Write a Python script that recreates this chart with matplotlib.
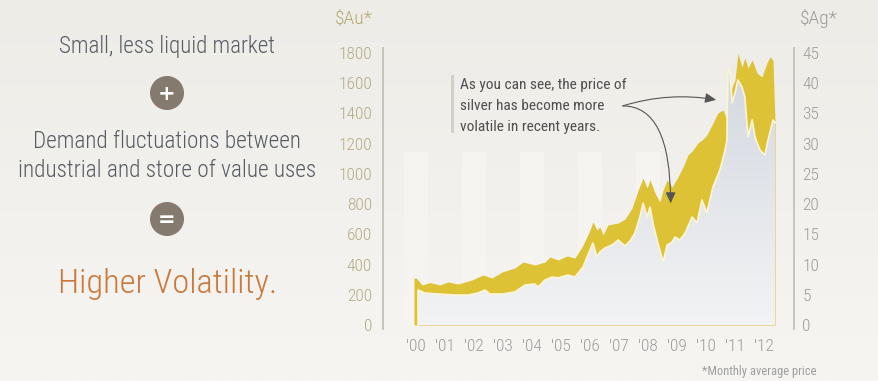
import numpy as np
import matplotlib
matplotlib.use("Agg")
import matplotlib.pyplot as plt
from matplotlib import font_manager as fm
from matplotlib.patches import Ellipse, Rectangle
from matplotlib.colors import LinearSegmentedColormap

# ---------------- data ----------------
gold_t = [1999.93, 2000.00, 2000.21, 2000.48, 2000.83, 2001.10, 2001.45, 2001.93, 2002.31,
          2002.62, 2002.97, 2003.41, 2003.69, 2004.10, 2004.45, 2004.62, 2004.90, 2005.21,
          2005.48, 2005.76, 2006.00, 2006.10, 2006.24, 2006.34, 2006.45, 2006.62, 2006.97,
          2007.21, 2007.45, 2007.66, 2007.83, 2007.97, 2008.07, 2008.24, 2008.41, 2008.52,
          2008.66, 2008.83, 2009.03, 2009.21, 2009.38, 2009.55, 2009.72, 2009.86, 2010.03,
          2010.24, 2010.41, 2010.59, 2010.72, 2010.90, 2011.00, 2011.10, 2011.24, 2011.34,
          2011.45, 2011.59, 2011.76, 2011.93, 2012.10, 2012.21, 2012.31, 2012.38]
gold_v = [311, 311, 265, 281, 265, 285, 271, 298, 331,
          311, 351, 377, 417, 397, 417, 450, 430, 457,
          443, 529, 629, 682, 629, 649, 596, 662, 675,
          701, 774, 893, 973, 907, 960, 874, 814, 893,
          960, 913, 979, 1046, 1125, 1158, 1204, 1224, 1257,
          1337, 1403, 1423, 1357, 1575, 1621, 1800, 1707, 1767,
          1701, 1754, 1668, 1641, 1734, 1774, 1754, 1337]

silver_t = [2000.07, 2000.31, 2000.76, 2001.34, 2001.79, 2002.14, 2002.38, 2002.55, 2002.97,
            2003.41, 2003.76, 2004.10, 2004.21, 2004.45, 2004.69, 2004.90, 2005.24, 2005.48,
            2005.76, 2006.00, 2006.10, 2006.24, 2006.34, 2006.52, 2006.76, 2006.97, 2007.21,
            2007.38, 2007.55, 2007.72, 2007.83, 2007.97, 2008.07, 2008.17, 2008.34, 2008.52,
            2008.66, 2008.83, 2008.93, 2009.10, 2009.28, 2009.52, 2009.69, 2009.86, 2010.03,
            2010.24, 2010.48, 2010.66, 2010.72, 2010.76, 2010.83, 2010.90, 2011.00, 2011.10,
            2011.24, 2011.34, 2011.45, 2011.59, 2011.69, 2011.86, 2012.03, 2012.14, 2012.31,
            2012.38]
silver_v = [5.79, 5.29, 5.13, 4.96, 4.96, 5.29, 5.79, 5.13, 5.13,
            5.46, 6.62, 6.78, 6.29, 7.44, 7.94, 7.78, 8.27, 7.94,
            9.60, 12.41, 13.57, 11.25, 12.08, 12.74, 13.24, 14.06, 13.07,
            13.90, 15.22, 17.87, 20.18, 17.87, 19.52, 16.87, 13.57, 10.42,
            13.24, 13.73, 14.56, 14.06, 15.22, 17.87, 16.87, 20.68, 18.53,
            22.83, 25.64, 28.95, 30.61, 42.19, 41.69, 36.73, 38.38, 40.53,
            39.37, 37.72, 31.10, 33.92, 31.10, 28.95, 28.12, 30.61, 33.92,
            33.42]

year_ticks = list(range(2000, 2013))
year_labels = ["'00", "'01", "'02", "'03", "'04", "'05", "'06", "'07", "'08", "'09", "'10", "'11", "'12"]
gold_ticks = [0, 200, 400, 600, 800, 1000, 1200, 1400, 1600, 1800]
silver_ticks = [0, 5, 10, 15, 20, 25, 30, 35, 40, 45]
band_years = [2000, 2002, 2004, 2006, 2008, 2010, 2012]
band_height = 1145

left_title = "$Au*"
right_title = "$Ag*"
line1 = "Small, less liquid market"
line2a = "Demand fluctuations between"
line2b = "industrial and store of value uses"
line3 = "Higher Volatility."
note_lines = ["As you can see, the price of", "silver has become more", "volatile in recent years."]
footnote = "*Monthly average price"

# ---------------- fonts ----------------
entries = fm.fontManager.ttflist
names = {f.name for f in entries}

def pick_cond():
    for fam in ["Roboto Condensed", "Open Sans Condensed", "Liberation Sans Narrow"]:
        if fam in names:
            return dict(family=fam)
    for f in entries:
        if f.name == "DejaVu Sans" and str(f.stretch) in ("condensed", "semi-condensed", "75", "87"):
            return dict(family="DejaVu Sans", stretch="condensed")
    return dict(family="Roboto")

COND = pick_cond()
COND_LIGHT = dict(COND)
if any(f.name == COND["family"] and f.weight in (300, "light") for f in entries):
    COND_LIGHT["weight"] = "light"

W, H = 879, 381
fig = plt.figure(figsize=(W / 100, H / 100), dpi=100)

def fx(px):
    return px / W

def fy(py):
    return 1 - py / H

# background gradient
bg = fig.add_axes([0, 0, 1, 1], zorder=-10)
bg.axis("off")
grad = np.linspace(0, 1, 256).reshape(-1, 1)
bg_cmap = LinearSegmentedColormap.from_list("bg", ["#eeece7", "#f6f5f2"])
bg.imshow(grad, aspect="auto", cmap=bg_cmap, extent=[0, 1, 0, 1], origin="upper")
bg.set_xlim(0, 1)
bg.set_ylim(0, 1)

# ---------------- main axes ----------------
k = 272 / 1800.0            # px per $ (gold axis)
ppy = 29.0                  # px per year
ax_l, ax_r, ax_t, ax_b = 383, 794, 48, 329
ax = fig.add_axes([fx(ax_l), fy(ax_b), (ax_r - ax_l) / W, (ax_b - ax_t) / H])
ax.set_facecolor("none")
xlim = (2000 - (416 - ax_l) / ppy, 2000 + (ax_r - 416) / ppy)
ylim = (-(ax_b - 325) / k, 1800 + (53 - ax_t) / k)

ax.bar(band_years, band_height, width=0.83, color="#f5f4f0", zorder=0, linewidth=0)
ax.fill_between(gold_t, 0, gold_v, color="#dec236", linewidth=0, zorder=2)

ax2 = ax.twinx()
poly = ax2.fill_between(silver_t, 0, silver_v, facecolor="none", linewidth=0)
sil_cmap = LinearSegmentedColormap.from_list("sil", ["#f2f3f4", "#e2e5ea", "#d1d6df"])
img = ax2.imshow(grad, aspect="auto", cmap=sil_cmap, origin="lower",
                 extent=[silver_t[0], silver_t[-1], 0, 45], zorder=3)
img.set_clip_path(poly.get_paths()[0], ax2.transData)
ax2.plot([silver_t[0]] + silver_t, [0] + silver_v, color="#fcf6d6", lw=1.2, zorder=4)

for a in (ax, ax2):
    a.set_xlim(*xlim)
ax.set_ylim(*ylim)
ax2.set_ylim(ylim[0] / 40.0, ylim[1] / 40.0)

for s in ["top", "bottom", "right"]:
    ax.spines[s].set_visible(False)
for s in ["top", "bottom", "left"]:
    ax2.spines[s].set_visible(False)
ax.spines["left"].set_color("#c4c1ba")
ax.spines["left"].set_linewidth(1.3)
ax2.spines["right"].set_color("#c4c1ba")
ax2.spines["right"].set_linewidth(1.3)

tick_fs = 12.5
ax.set_yticks(gold_ticks)
ax.set_yticklabels([str(v) for v in gold_ticks], color="#b4aa85", fontsize=tick_fs, **COND_LIGHT)
ax.tick_params(axis="y", length=0, pad=8)
ax2.set_yticks(silver_ticks)
ax2.set_yticklabels([str(v) for v in silver_ticks], color="#9c9c9c", fontsize=tick_fs, **COND_LIGHT)
ax2.tick_params(axis="y", length=0, pad=6)
ax.set_xticks(year_ticks)
ax.set_xticklabels(year_labels, color="#9c9c9c", fontsize=tick_fs, **COND_LIGHT)
ax.tick_params(axis="x", length=0, pad=7)

fig.text(fx(354), fy(19), left_title, color="#b5a872", fontsize=14, ha="center", va="center",
         parse_math=False, **COND_LIGHT)
fig.text(fx(819), fy(19), right_title, color="#9a9a9a", fontsize=14, ha="center", va="center",
         parse_math=False, **COND_LIGHT)

# annotation
fig.add_artist(Rectangle((fx(451), fy(133)), 3 / W, 58 / H, transform=fig.transFigure,
                         color="#d3d0c9", lw=0))
note_objs = []
for i, s in enumerate(note_lines):
    note_objs.append(fig.text(fx(460), fy(89 + 20.8 * i), s, color="#4e4e4e", fontsize=10.5,
                              ha="left", va="baseline", **COND))
arrow_start = (2007.13, 1450)
ax2.annotate("", xy=(2010.35, 1490 / 40.0), xytext=(arrow_start[0], arrow_start[1] / 40.0),
             arrowprops=dict(arrowstyle="-|>,head_length=0.55,head_width=0.25", color="#555555",
                             lw=0.8, connectionstyle="arc3,rad=-0.12", shrinkA=0, shrinkB=0,
                             mutation_scale=12), zorder=10)
ax2.annotate("", xy=(2008.78, 805 / 40.0), xytext=(arrow_start[0], arrow_start[1] / 40.0),
             arrowprops=dict(arrowstyle="-|>,head_length=0.55,head_width=0.25", color="#555555",
                             lw=0.8, connectionstyle="angle3,angleA=0,angleB=90", shrinkA=0,
                             shrinkB=0, mutation_scale=12), zorder=10)

fig.text(fx(817), fy(371), footnote, color="#9f9f9f", fontsize=9, ha="right", va="center", **COND)

# ---------------- left text block ----------------
t1 = fig.text(fx(167), fy(53), line1, color="#565c64", fontsize=20, ha="center", va="baseline", **COND_LIGHT)
t2 = fig.text(fx(167), fy(148), line2a, color="#565c64", fontsize=20, ha="center", va="baseline", **COND_LIGHT)
t3 = fig.text(fx(167), fy(177), line2b, color="#565c64", fontsize=20, ha="center", va="baseline", **COND_LIGHT)
t4 = fig.text(fx(168), fy(293), line3, color="#c8793b", fontsize=28, ha="center", va="baseline", **COND_LIGHT)

for cy, sym in [(93, "+"), (219, "=")]:
    fig.add_artist(Ellipse((fx(167), fy(cy)), 34 / W, 34 / H, transform=fig.transFigure,
                           color="#857a6e", lw=0))
    fig.text(fx(167), fy(cy + 1), sym, color="white", fontsize=15, fontweight="bold",
             ha="center", va="center", family="DejaVu Sans")

# fit widths
fig.canvas.draw()
r = fig.canvas.get_renderer()
for t, wpx in [(t1, 216), (t2, 267), (t3, 297), (t4, 219), (note_objs[0], 168)]:
    w = t.get_window_extent(r).width
    t.set_fontsize(t.get_fontsize() * wpx / w)
    if t is note_objs[0]:
        for o in note_objs[1:]:
            o.set_fontsize(t.get_fontsize())

fig.savefig("out.png", dpi=100)
